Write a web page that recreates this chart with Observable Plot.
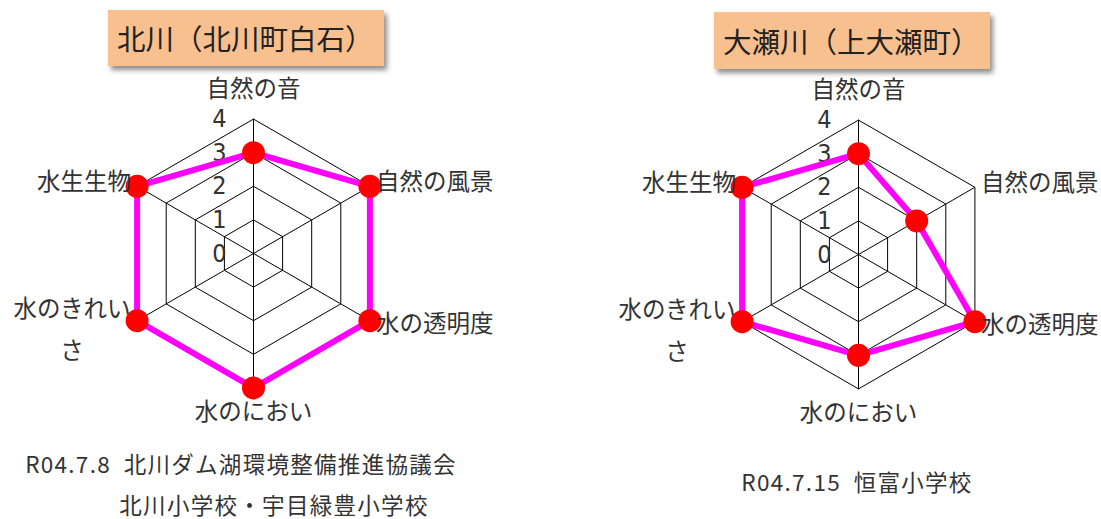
<!DOCTYPE html>
<html><head><meta charset="utf-8">
<script src="https://cdn.jsdelivr.net/npm/d3@7"></script>
<script src="https://cdn.jsdelivr.net/npm/@observablehq/plot@0.6"></script>
<style>
body{margin:0;background:#fff;}
#root{position:relative;width:1101px;height:519px;overflow:hidden;background:#fff;font-family:"Noto Sans CJK JP",sans-serif;color:#222;}
.title{position:absolute;background:#f8c08f;box-shadow:3px 4px 5px rgba(0,0,0,0.45);font-size:28.5px;box-sizing:border-box;padding-left:9px;color:#222;white-space:nowrap;}
.cap{position:absolute;font-size:22.5px;line-height:20px;letter-spacing:1.3px;white-space:pre;color:#333;transform:translateX(-50%);}
.chart{position:absolute;}
</style>
</head><body><div id="root"></div>
<script>
// Data
const categories = ["自然の音","自然の風景","水の透明度","水のにおい","水のきれいさ","水生生物"];
const axisLabels = ["自然の音","自然の風景","水の透明度","水のにおい","水のきれい\nさ","水生生物"];
const kitagawaValues = [3,4,4,4,4,4];
const oosegawaValues = [3,2,4,3,4,4];
const ticks = [0,1,2,3,4];
const titles = ["北川（北川町白石）","大瀬川（上大瀬町）"];
const captionsLeft = ["R04.7.8  北川ダム湖環境整備推進協議会","北川小学校・宇目緑豊小学校"];
const captionsRight = ["R04.7.15  恒富小学校"];

const root = document.getElementById("root");
const W = 500, H = 380, unit = 33.6, maxV = 4;
const n = categories.length;
const ang = i => i * 2 * Math.PI / n;
const px = (v,i) => v * Math.sin(ang(i));
const py = (v,i) => v * Math.cos(ang(i));
const LFS = 23.5;

function radar(values){
  const grid = [];
  for (const t of ticks.slice(1)) for (let i = 0; i <= n; i++) grid.push({lvl:t, x:px(t,i%n), y:py(t,i%n)});
  const spokes = categories.map((c,i)=>({x2:px(maxV,i), y2:py(maxV,i)}));
  const poly = [...values, values[0]].map((v,k)=>({x:px(v,k%n), y:py(v,k%n)}));
  const pts = values.map((v,i)=>({x:px(v,i), y:py(v,i), c:categories[i]}));
  const lab = axisLabels.map((t,i)=>({t, i}));
  const top = lab.filter(d=>d.i===0), bot = lab.filter(d=>d.i===3);
  const right = lab.filter(d=>d.i===1||d.i===2), left = lab.filter(d=>d.i===5), leftWrap = lab.filter(d=>d.i===4);
  const side = 4.21;
  return Plot.plot({
    width: W, height: H, margin: 0,
    x: {domain: [-W/2/unit, W/2/unit], range: [0, W], axis: null},
    y: {domain: [-H/2/unit, H/2/unit], range: [H, 0], axis: null},
    style: {fontFamily: '"Noto Sans CJK JP", sans-serif', background: "transparent", overflow: "visible"},
    marks: [
      Plot.line(grid, {x:"x", y:"y", z:"lvl", stroke:"#000", strokeWidth:1}),
      Plot.link(spokes, {x1:0, y1:0, x2:"x2", y2:"y2", stroke:"#000", strokeWidth:1}),
      Plot.text(ticks, {x:0, y:d=>d, text:d=>String(d), textAnchor:"end", dx:-27, fontSize:25, fill:"#333", fontFamily:'"Liberation Sans Narrow","DejaVu Sans Condensed",sans-serif'}),
      Plot.line(poly, {x:"x", y:"y", stroke:"#ff00ff", strokeWidth:6, strokeLinejoin:"miter"}),
      Plot.dot(pts, {x:"x", y:"y", r:11.5, fill:"#ff0000", stroke:"none"}),
      Plot.text(top, {x:d=>0, y:d=>maxV, text:"t", dy:-30, fontSize:LFS, fill:"#333"}),
      Plot.text(bot, {x:d=>0, y:d=>-maxV, text:"t", dy:25, fontSize:LFS, fill:"#333"}),
      Plot.text(right, {x:d=>px(side,d.i), y:d=>py(side,d.i), text:"t", textAnchor:"start", fontSize:LFS, fill:"#333"}),
      Plot.text(left, {x:d=>px(side,d.i), y:d=>py(side,d.i), text:"t", textAnchor:"end", fontSize:LFS, fill:"#333"}),
      Plot.text(leftWrap, {x:d=>px(side,d.i), y:d=>py(side,d.i), text:"t", textAnchor:"middle", dx:-59, lineHeight:1.8, fontSize:LFS, fill:"#333"})
    ]
  });
}

function place(el, left, top){ el.classList.add("chart"); el.style.left = left+"px"; el.style.top = top+"px"; root.appendChild(el); }
place(radar(kitagawaValues), 252.5 - W/2, 252.7 - H/2);
place(radar(oosegawaValues), 858.3 - W/2, 254.3 - H/2);

function title(text, l, t, w, h){
  const d = document.createElement("div"); d.className = "title";
  Object.assign(d.style, {left:l+"px", top:t+"px", width:w+"px", height:h+"px", lineHeight:h+"px"});
  d.textContent = text; root.appendChild(d);
}
title(titles[0], 108, 10, 276, 56);
title(titles[1], 714, 12, 276, 57);

function cap(text, cx, cy){
  const d = document.createElement("div"); d.className = "cap";
  Object.assign(d.style, {left:cx+"px", top:(cy-10)+"px"});
  d.textContent = text; root.appendChild(d);
}
cap(captionsLeft[0], 241, 463);
cap(captionsLeft[1], 274, 504);
cap(captionsRight[0], 857, 481);
</script></body></html>
